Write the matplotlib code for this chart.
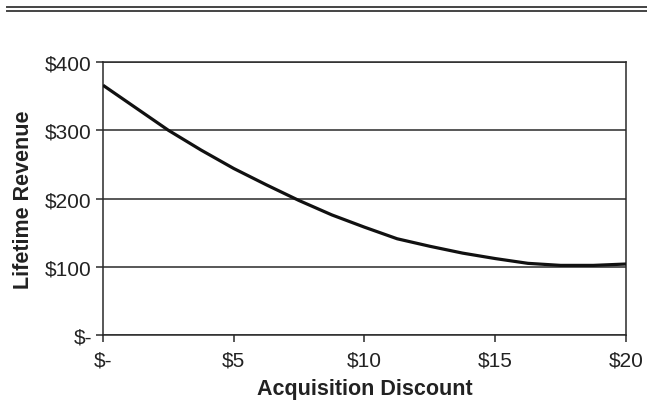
import matplotlib
matplotlib.use("Agg")
import matplotlib.pyplot as plt
from matplotlib.lines import Line2D
from matplotlib.ticker import FuncFormatter

plt.rcParams.update({
    "font.family": ["Liberation Sans", "DejaVu Sans"],
    "font.size": 15,
})

# Lifetime revenue vs. acquisition discount
discount = [0, 1.25, 2.5, 3.75, 5, 6.25, 7.5, 8.75, 10, 11.25,
            12.5, 13.75, 15, 16.25, 17.5, 18.75, 20]
revenue = [366, 333, 300, 271, 244, 220, 197, 176, 158, 141,
           130, 120, 112, 105, 102, 102, 104]

x_ticks = [0, 5, 10, 15, 20]
y_ticks = [0, 100, 200, 300, 400]

DARK = "#2a2a2a"


def dollars(v, pos=None):
    return "$-" if v == 0 else f"${v:g}"


fig = plt.figure(figsize=(6.47, 4.02), dpi=100)
ax = fig.add_axes([0.1592, 0.1642, 0.8083, 0.679])

ax.plot(discount, revenue, color="#111111", lw=2.3, solid_capstyle="butt", zorder=3)

ax.set_xlim(0, 20)
ax.set_ylim(0, 400)
ax.set_xticks(x_ticks)
ax.set_yticks(y_ticks)
ax.xaxis.set_major_formatter(FuncFormatter(dollars))
ax.yaxis.set_major_formatter(FuncFormatter(dollars))
ax.yaxis.grid(True, color=DARK, lw=1.1)
ax.set_axisbelow(True)

for side in ["left", "bottom", "right", "top"]:
    ax.spines[side].set_color(DARK)
    ax.spines[side].set_linewidth(1.1)
ax.tick_params(direction="out", length=5, width=1.1, color=DARK,
               labelcolor="#222222", pad=3)
ax.tick_params(axis="x", pad=6)

ax.set_xlabel("Acquisition Discount", fontweight="bold", fontsize=15.5,
              labelpad=6, color="#222222")
ax.set_ylabel("Lifetime Revenue", fontweight="bold", fontsize=15.5,
              labelpad=8, color="#222222")

# double rule across the top
for y in (0.979, 0.969):
    fig.add_artist(Line2D([0.011, 1.0], [y, y], transform=fig.transFigure,
                          color="#444444", lw=1.4))

fig.savefig("out.png", dpi=100)
